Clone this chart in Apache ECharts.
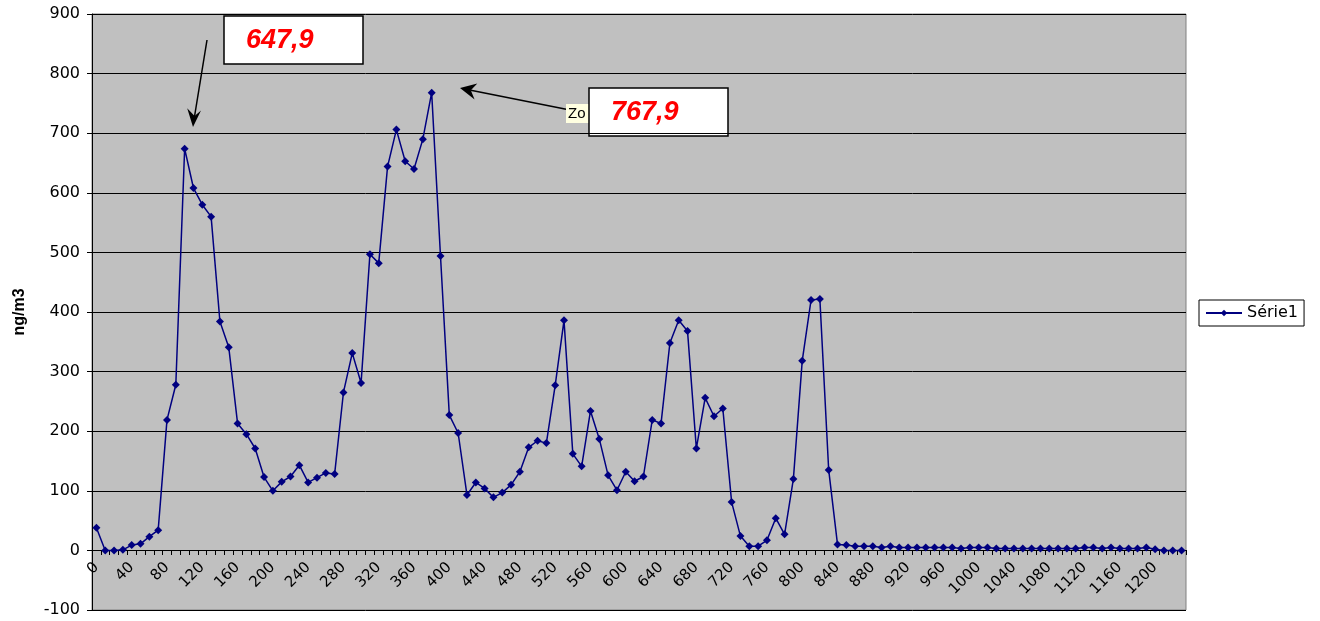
<!DOCTYPE html>
<html>
<head>
<meta charset="utf-8">
<script src="https://cdn.jsdelivr.net/npm/echarts@6/dist/echarts.min.js"></script>
<style>
  html, body { margin: 0; padding: 0; background: #fff; }
  #chart { width: 1320px; height: 621px; }
</style>
</head>
<body>
<div id="chart"></div>
<script>
// x categories (step 10)
var categories = [
  "0", "10", "20", "30", "40", "50", "60", "70", "80", "90",
  "100", "110", "120", "130", "140", "150", "160", "170", "180", "190",
  "200", "210", "220", "230", "240", "250", "260", "270", "280", "290",
  "300", "310", "320", "330", "340", "350", "360", "370", "380", "390",
  "400", "410", "420", "430", "440", "450", "460", "470", "480", "490",
  "500", "510", "520", "530", "540", "550", "560", "570", "580", "590",
  "600", "610", "620", "630", "640", "650", "660", "670", "680", "690",
  "700", "710", "720", "730", "740", "750", "760", "770", "780", "790",
  "800", "810", "820", "830", "840", "850", "860", "870", "880", "890",
  "900", "910", "920", "930", "940", "950", "960", "970", "980", "990",
  "1000", "1010", "1020", "1030", "1040", "1050", "1060", "1070", "1080", "1090",
  "1100", "1110", "1120", "1130", "1140", "1150", "1160", "1170", "1180", "1190",
  "1200", "1210", "1220", "1230"
];

// Série1 (ng/m3)
var serie1 = [
  38, 0, 0, 1, 9, 11, 23, 34, 219, 278,
  674, 608, 580, 560, 384, 341, 213, 195, 171, 123,
  100, 115, 124, 143, 114, 122, 130, 128, 265, 331,
  281, 497, 482, 644, 706, 653, 640, 690, 767.9, 494,
  227, 197, 93, 114, 104, 89, 97, 110, 132, 173,
  184, 180, 277, 386, 162, 141, 234, 187, 126, 101,
  132, 116, 124, 219, 213, 348, 386, 368, 171, 256,
  225, 238, 81, 24, 7, 7, 17, 54, 27, 120,
  318, 420, 422, 135, 10, 9, 7, 7, 7, 5,
  7, 5, 5, 5, 5, 5, 5, 5, 3, 5,
  5, 5, 3, 3, 3, 3, 3, 3, 3, 3,
  3, 3, 5, 5, 3, 5, 3, 3, 3, 5,
  2, 0, 0, 0
];

// y axis ticks
var yMin = -100;
var yMax = 900;
var yStep = 100;

// annotation labels
var noteLabels = ["647,9", "767,9"];

var gridTop = 14;
var gridBottom = 11;
var plotH = 621 - gridTop - gridBottom;
// move the category axis up to the 0 line
var zeroOffset = -Math.round(plotH * (0 - yMin) / (yMax - yMin));

var chart = echarts.init(document.getElementById("chart"));

var option = {
  backgroundColor: "#fff",
  animation: false,
  grid: {
    left: 92,
    right: 134,
    top: gridTop,
    bottom: gridBottom,
    containLabel: false,
    outerBoundsMode: "none",
    show: true,
    backgroundColor: "#C0C0C0",
    borderColor: "#808080",
    borderWidth: 1
  },
  legend: {
    left: 1199,
    top: 300,
    orient: "vertical",
    backgroundColor: "#fff",
    borderColor: "#000",
    borderWidth: 1,
    padding: [5, 6, 5, 6],
    itemWidth: 36,
    itemHeight: 8,
    textStyle: { fontFamily: "DejaVu Sans", fontSize: 16, color: "#000" },
    data: ["Série1"]
  },
  xAxis: {
    type: "category",
    data: categories,
    boundaryGap: true,
    position: "bottom",
    offset: zeroOffset,
    axisLine: { onZero: false, lineStyle: { color: "#000", width: 1 } },
    axisTick: { show: true, interval: 0, length: 5, lineStyle: { color: "#000" } },
    axisLabel: {
      interval: 3,
      rotate: 45,
      margin: 15,
      fontFamily: "DejaVu Sans",
      fontSize: 15,
      color: "#000"
    },
    splitLine: { show: false }
  },
  yAxis: {
    type: "value",
    min: yMin,
    max: yMax,
    interval: yStep,
    name: "ng/m3",
    nameLocation: "middle",
    nameRotate: 90,
    nameGap: 64,
    nameTextStyle: { fontFamily: "Liberation Sans", fontWeight: "bold", fontSize: 16, color: "#000" },
    axisLine: { show: true, lineStyle: { color: "#000" } },
    axisTick: { show: true, length: 5, lineStyle: { color: "#000" } },
    axisLabel: { margin: 12, fontFamily: "DejaVu Sans", fontSize: 16, color: "#000" },
    splitLine: { show: true, lineStyle: { color: "#000", width: 1 } }
  },
  series: [
    {
      name: "Série1",
      type: "line",
      data: serie1,
      symbol: "diamond",
      symbolSize: 8,
      showSymbol: true,
      showAllSymbol: true,
      color: "#000080",
      lineStyle: { color: "#000080", width: 1.5 },
      itemStyle: { color: "#000080" }
    }
  ],
  graphic: [
    // arrow 1
    { type: "line", shape: { x1: 207, y1: 40, x2: 194.6, y2: 116 }, style: { stroke: "#000", lineWidth: 1.5 } },
    { type: "polygon", shape: { points: [[193, 127], [201, 110.5], [194.6, 116], [187.2, 108.3]] }, style: { fill: "#000" } },
    // arrow 2
    { type: "line", shape: { x1: 585, y1: 113, x2: 470.8, y2: 90.2 }, style: { stroke: "#000", lineWidth: 1.5 } },
    { type: "polygon", shape: { points: [[460, 88], [477.3, 83.6], [470.8, 90.2], [474.6, 99.4]] }, style: { fill: "#000" } },
    // leftover tooltip behind box 2
    {
      type: "text",
      left: 566,
      top: 104,
      style: {
        text: "Zo",
        fontFamily: "Liberation Sans",
        fontSize: 15,
        fill: "#000",
        backgroundColor: "#FFFFE1",
        padding: [2, 8, 2, 2]
      }
    },
    // box 1
    { type: "rect", shape: { x: 224, y: 16, width: 139, height: 48 }, style: { fill: "#fff", stroke: "#000", lineWidth: 1.5 } },
    {
      type: "text",
      left: 246,
      top: 27,
      style: {
        text: noteLabels[0],
        fontFamily: "Liberation Sans",
        fontWeight: "bold",
        fontStyle: "italic",
        fontSize: 27,
        fill: "#FF0000"
      }
    },
    // box 2
    { type: "rect", shape: { x: 589, y: 88, width: 139, height: 48 }, style: { fill: "#fff", stroke: "#000", lineWidth: 1.5 } },
    {
      type: "text",
      left: 611,
      top: 99,
      style: {
        text: noteLabels[1],
        fontFamily: "Liberation Sans",
        fontWeight: "bold",
        fontStyle: "italic",
        fontSize: 27,
        fill: "#FF0000"
      }
    }
  ]
};

chart.setOption(option);
</script>
</body>
</html>
